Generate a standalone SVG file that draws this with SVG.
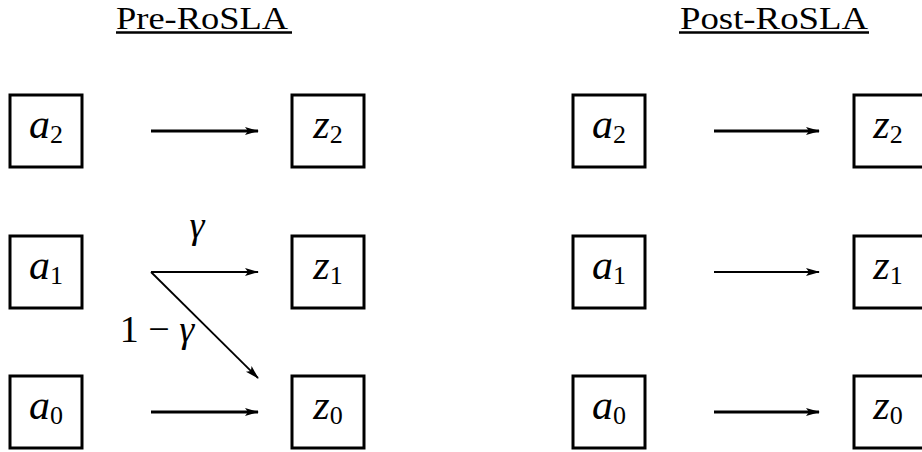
<svg xmlns="http://www.w3.org/2000/svg" width="922" height="452" viewBox="0 0 922 452">
  <style>
    .box { fill: #fff; stroke: #000; stroke-width: 3; }
    .uline { stroke: #000; stroke-width: 2.4; }
    .edge { stroke: #000; fill: none; stroke-width: 3; }
    .thin { stroke-width: 1.8; }
  </style>
  <defs>
    <marker id="ah" viewBox="0 0 14 10" refX="13" refY="5" markerUnits="userSpaceOnUse" markerWidth="14" markerHeight="10" orient="auto">
      <path d="M0,1 L14,5 L0,9 L3,5 Z" fill="#000"/>
    </marker>
  </defs>

  <!-- headings -->
  <g id="title-pre" font-family="'Liberation Serif', 'DejaVu Serif', serif" font-size="32">
    <text x="116" y="29" textLength="172" lengthAdjust="spacingAndGlyphs">Pre-RoSLA</text>
    <line class="uline" x1="116" y1="32.5" x2="292" y2="32.5"/>
  </g>
  <g id="title-post" font-family="'Liberation Serif', 'DejaVu Serif', serif" font-size="32">
    <text x="680" y="29" textLength="188" lengthAdjust="spacingAndGlyphs">Post-RoSLA</text>
    <line class="uline" x1="679" y1="32.5" x2="869" y2="32.5"/>
  </g>

  <!-- connectors -->
  <g id="connectors" font-family="'Liberation Serif', 'DejaVu Serif', serif" font-size="38">
    <line class="edge" x1="151" y1="131" x2="258" y2="131" marker-end="url(#ah)"/>
    <line class="edge thin" x1="151" y1="272" x2="258" y2="272" marker-end="url(#ah)"/>
    <line class="edge thin" x1="151" y1="272" x2="258" y2="378" marker-end="url(#ah)"/>
    <line class="edge" x1="151" y1="412" x2="258" y2="412" marker-end="url(#ah)"/>
    <line class="edge" x1="714" y1="131" x2="819" y2="131" marker-end="url(#ah)"/>
    <line class="edge thin" x1="714" y1="272" x2="819" y2="272" marker-end="url(#ah)"/>
    <line class="edge" x1="714" y1="412" x2="819" y2="412" marker-end="url(#ah)"/>
    <text x="197" y="238" text-anchor="middle" font-style="italic">γ</text>
    <text x="157" y="342" text-anchor="middle">1 − <tspan font-style="italic">γ</tspan></text>
  </g>

  <!-- node labels: italic variable, upright subscript -->
  <g font-family="'Liberation Serif', 'DejaVu Serif', serif" font-style="italic" font-size="42" text-anchor="middle">
    <g id="pre-a2"><rect class="box" x="10" y="95" width="72" height="72"/><text x="46" y="138">a<tspan font-style="normal" font-size="26" dy="5">2</tspan></text></g>
    <g id="pre-a1"><rect class="box" x="10" y="236" width="72" height="72"/><text x="46" y="279">a<tspan font-style="normal" font-size="26" dy="5">1</tspan></text></g>
    <g id="pre-a0"><rect class="box" x="10" y="376" width="72" height="72"/><text x="46" y="419">a<tspan font-style="normal" font-size="26" dy="5">0</tspan></text></g>
    <g id="pre-z2"><rect class="box" x="292" y="95" width="72" height="72"/><text x="328" y="138">z<tspan font-style="normal" font-size="26" dy="5">2</tspan></text></g>
    <g id="pre-z1"><rect class="box" x="292" y="236" width="72" height="72"/><text x="328" y="279">z<tspan font-style="normal" font-size="26" dy="5">1</tspan></text></g>
    <g id="pre-z0"><rect class="box" x="292" y="376" width="72" height="72"/><text x="328" y="419">z<tspan font-style="normal" font-size="26" dy="5">0</tspan></text></g>

    <g id="post-a2"><rect class="box" x="573" y="95" width="72" height="72"/><text x="609" y="138">a<tspan font-style="normal" font-size="26" dy="5">2</tspan></text></g>
    <g id="post-a1"><rect class="box" x="573" y="236" width="72" height="72"/><text x="609" y="279">a<tspan font-style="normal" font-size="26" dy="5">1</tspan></text></g>
    <g id="post-a0"><rect class="box" x="573" y="376" width="72" height="72"/><text x="609" y="419">a<tspan font-style="normal" font-size="26" dy="5">0</tspan></text></g>
    <g id="post-z2"><rect class="box" x="854" y="95" width="72" height="72"/><text x="888" y="138">z<tspan font-style="normal" font-size="26" dy="5">2</tspan></text></g>
    <g id="post-z1"><rect class="box" x="854" y="236" width="72" height="72"/><text x="888" y="279">z<tspan font-style="normal" font-size="26" dy="5">1</tspan></text></g>
    <g id="post-z0"><rect class="box" x="854" y="376" width="72" height="72"/><text x="888" y="419">z<tspan font-style="normal" font-size="26" dy="5">0</tspan></text></g>
  </g>
</svg>
